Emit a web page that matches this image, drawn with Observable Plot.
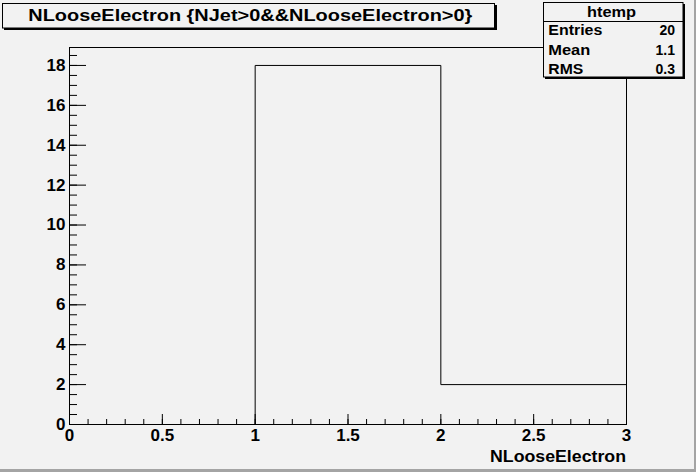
<!DOCTYPE html>
<html>
<head>
<meta charset="utf-8">
<script src="https://cdn.jsdelivr.net/npm/d3@7"></script>
<script src="https://cdn.jsdelivr.net/npm/@observablehq/plot@0.6"></script>
<style>
  html, body { margin: 0; padding: 0; background: #f2f2f2; }
  #chart { width: 696px; height: 472px; overflow: hidden; }
</style>
</head>
<body>
<div id="chart"></div>
<script>
// ---- data ----
const binEdges = [0, 1, 2, 3];
const counts = [0, 18, 2];
const xTickLabels = [0, 0.5, 1, 1.5, 2, 2.5, 3];
const yTickLabels = [0, 2, 4, 6, 8, 10, 12, 14, 16, 18];
const titleText = "NLooseElectron {NJet>0&&NLooseElectron>0}";
const xAxisTitle = "NLooseElectron";
const statsName = "htemp";
const statsLabels = ["Entries", "Mean", "RMS"];
const statsValues = ["20", "1.1", "0.3"];

// step outline points built from the bins
const pts = counts.map((c, i) => ({x: binEdges[i], y: c}));
pts.push({x: binEdges[binEdges.length - 1], y: counts[counts.length - 1]});
pts.push({x: binEdges[binEdges.length - 1], y: 0});

const xMinor = d3.range(0, 3.0001, 0.1).map(v => +v.toFixed(2));
const yMinor = d3.range(0, 18.9, 0.5);
const font = "'Liberation Sans', Arial, Helvetica, sans-serif";
const fmt = d => `${d}`;

const svg = Plot.plot({
  width: 696,
  height: 472,
  marginLeft: 69,
  marginRight: 70,
  marginTop: 47,
  marginBottom: 48,
  style: {background: "#f2f2f2", fontFamily: font, fontSize: "17px", fontWeight: "bold", color: "black"},
  x: {domain: [0, 3]},
  y: {domain: [0, 18.9]},
  marks: [
    Plot.line(pts, {x: "x", y: "y", curve: "step-after", stroke: "black", strokeWidth: 1}),
    Plot.frame({stroke: "black", strokeWidth: 1}),
    Plot.axisX({ticks: xMinor, tickSize: -5, tickFormat: () => "", label: null, stroke: "black"}),
    Plot.axisX({ticks: xTickLabels, tickSize: -10, tickFormat: () => "", label: null, stroke: "black"}),
    Plot.axisX({ticks: xTickLabels, tickSize: 0, tickPadding: 4, tickFormat: fmt, label: null, fill: "black"}),
    Plot.axisY({ticks: yMinor, tickSize: -8, tickFormat: () => "", label: null, stroke: "black"}),
    Plot.axisY({ticks: yTickLabels, tickSize: -17, tickFormat: () => "", label: null, stroke: "black"}),
    Plot.axisY({ticks: yTickLabels, tickSize: 0, tickPadding: 4, tickFormat: fmt, label: null, fill: "black"})
  ]
});
document.getElementById("chart").appendChild(svg);

const s = d3.select(svg);
// canvas bevel (bottom / right)
s.append("rect").attr("x", 0).attr("y", 469).attr("width", 696).attr("height", 3).attr("fill", "#a4a4a4");
s.append("rect").attr("x", 694).attr("y", 0).attr("width", 2).attr("height", 472).attr("fill", "#a4a4a4");

// title box
s.append("rect").attr("x", 4).attr("y", 5).attr("width", 493).attr("height", 25).attr("fill", "black");
s.append("rect").attr("x", 2.5).attr("y", 3.5).attr("width", 492).attr("height", 24.5)
  .attr("fill", "#f2f2f2").attr("stroke", "black");
s.append("text").attr("x", 28.3).attr("y", 21).text(titleText)
  .attr("font-family", font).attr("font-weight", "bold").attr("font-size", 17)
  .attr("text-anchor", "start")
  .attr("textLength", 444).attr("lengthAdjust", "spacingAndGlyphs").attr("fill", "black");

// stats box
s.append("rect").attr("x", 545).attr("y", 4).attr("width", 140).attr("height", 75).attr("fill", "black");
s.append("rect").attr("x", 543.5).attr("y", 2.5).attr("width", 139.5).attr("height", 74.5)
  .attr("fill", "#f2f2f2").attr("stroke", "black");
s.append("line").attr("x1", 543.5).attr("x2", 683).attr("y1", 21.5).attr("y2", 21.5).attr("stroke", "black");
const st = (x, y, t, anchor, len) => {
  const e = s.append("text").attr("x", x).attr("y", y).text(t)
    .attr("font-family", font).attr("font-weight", "bold").attr("font-size", 14)
    .attr("text-anchor", anchor).attr("fill", "black");
  if (len) e.attr("textLength", len).attr("lengthAdjust", "spacingAndGlyphs");
  return e;
};
st(611.5, 17, statsName, "middle", 49);
const rowY = [35.3, 54.7, 73.7];
const labelW = [54, 42, 35];
statsLabels.forEach((l, i) => st(548.3, rowY[i], l, "start", labelW[i]));
statsValues.forEach((v, i) => st(675, rowY[i], v, "end", null));

// x axis title (right aligned)
s.append("text").attr("x", 626).attr("y", 462).text(xAxisTitle)
  .attr("font-family", font).attr("font-weight", "bold").attr("font-size", 16.3)
  .attr("text-anchor", "end").attr("textLength", 136).attr("lengthAdjust", "spacingAndGlyphs").attr("fill", "black");
</script>
</body>
</html>
